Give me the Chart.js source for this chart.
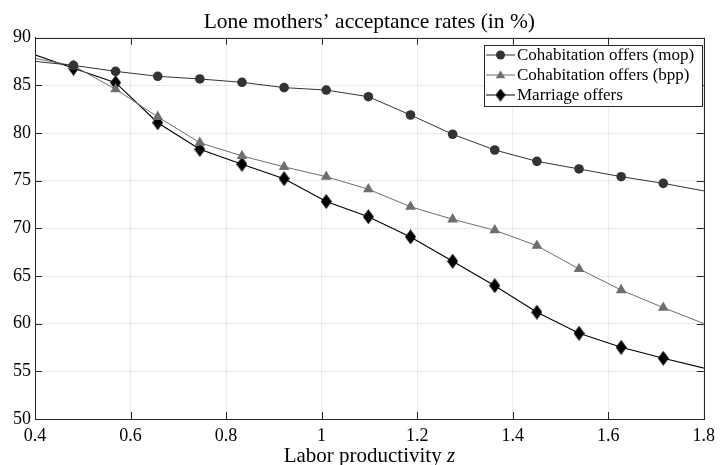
<!DOCTYPE html>
<html lang="en">
<head>
<meta charset="UTF-8" />
<script src="https://cdn.jsdelivr.net/npm/chart.js@4.4.1/dist/chart.umd.min.js"></script>
<style>
  html, body { margin: 0; padding: 0; background: #fff; }
  #wrap { width: 721px; height: 465px; }
</style>
</head>
<body>
<div id="wrap"><canvas id="c" width="721" height="465"></canvas></div>
<script>
// labor productivity grid (first and last points sit just outside the axes)
const zValues = [0.3923, 0.4805, 0.5687, 0.6569, 0.7451, 0.8333, 0.9215, 1.0097, 1.0979,
  1.1861, 1.2743, 1.3625, 1.4507, 1.5389, 1.6271, 1.7153, 1.8035]
const mopRates = [87.55, 87.1, 86.47, 85.95, 85.67, 85.32, 84.76, 84.51, 83.81,
  81.89, 79.87, 78.22, 77.03, 76.23, 75.42, 74.72, 73.9]
const bppRates = [87.9, 87.05, 84.6, 81.7, 78.98, 77.6, 76.45, 75.42, 74.1,
  72.27, 70.95, 69.8, 68.18, 65.74, 63.53, 61.68, 59.95]
const marriageRates = [88.33, 86.8, 85.28, 81.08, 78.29, 76.72, 75.21, 72.82, 71.22,
  69.1, 66.55, 63.98, 61.2, 58.99, 57.52, 56.37, 55.3]
const seriesNames = ['Cohabitation offers (mop)', 'Cohabitation offers (bpp)', 'Marriage offers']
const xTicks = [0.4, 0.6, 0.8, 1, 1.2, 1.4, 1.6, 1.8]
const yTicks = [50, 55, 60, 65, 70, 75, 80, 85, 90]
const chartTitle = 'Lone mothers’ acceptance rates (in %)'

const FONT = '"Liberation Serif", "Times New Roman", serif'
const AXIS = '#262626'

// tall diamond marker, like matlab's 'd'
function makeDiamond(w, h, color) {
	const cv = document.createElement('canvas')
	cv.width = w
	cv.height = h
	const g = cv.getContext('2d')
	g.fillStyle = color
	g.beginPath()
	g.moveTo(w / 2, 0)
	g.lineTo(w, h / 2)
	g.lineTo(w / 2, h)
	g.lineTo(0, h / 2)
	g.closePath()
	g.fill()
	return cv
}
const diamond = makeDiamond(11, 15, '#000')
const diamondSmall = makeDiamond(10, 13, '#000')

const pts = (ys) => zValues.map((x, i) => ({ x, y: ys[i] }))
const radii = (r) => zValues.map((_, i) => (i === 0 || i === zValues.length - 1 ? 0 : r))

// title, inward ticks on all four sides, box and legend inside the axes
const boxPlugin = {
	id: 'boxPlugin',
	afterDraw(chart) {
		const { ctx, chartArea: a, scales } = chart
		const cx = (a.left + a.right) / 2
		ctx.save()
		ctx.strokeStyle = AXIS
		ctx.lineWidth = 1
		ctx.strokeRect(Math.round(a.left) + 0.5, Math.round(a.top) + 0.5,
			Math.round(a.right - a.left), Math.round(a.bottom - a.top))
		const L = 7
		ctx.beginPath()
		xTicks.forEach((v) => {
			const px = Math.round(scales.x.getPixelForValue(v)) + 0.5
			ctx.moveTo(px, a.bottom); ctx.lineTo(px, a.bottom - L)
			ctx.moveTo(px, a.top); ctx.lineTo(px, a.top + L)
		})
		yTicks.forEach((v) => {
			const py = Math.round(scales.y.getPixelForValue(v)) + 0.5
			ctx.moveTo(a.left, py); ctx.lineTo(a.left + L, py)
			ctx.moveTo(a.right, py); ctx.lineTo(a.right - L, py)
		})
		ctx.stroke()

		// title centred over the axes
		ctx.fillStyle = '#000'
		ctx.textAlign = 'center'
		ctx.textBaseline = 'alphabetic'
		ctx.font = '21.5px ' + FONT
		ctx.fillText(chartTitle, cx, 27.5)

		// x label with italic z
		const t1 = 'Labor productivity '
		ctx.font = 'italic 21px ' + FONT
		const wz = ctx.measureText('z').width
		ctx.font = '21px ' + FONT
		const w1 = ctx.measureText(t1).width
		const x0 = cx - (w1 + wz) / 2
		ctx.textAlign = 'left'
		ctx.fillText(t1, x0, 462)
		ctx.font = 'italic 21px ' + FONT
		ctx.fillText('z', x0 + w1, 462)

		// legend
		const bx = 484, by = 45, bw = 218, bh = 61
		ctx.fillStyle = '#fff'
		ctx.fillRect(bx, by, bw, bh)
		ctx.strokeStyle = AXIS
		ctx.strokeRect(bx + 0.5, by + 0.5, bw, bh)
		ctx.font = '17px ' + FONT
		ctx.textBaseline = 'middle'
		chart.data.datasets.forEach((ds, i) => {
			const y = by + 10 + i * 20
			const mx = bx + 16.5
			ctx.strokeStyle = ds.borderColor
			ctx.lineWidth = 1
			ctx.beginPath()
			ctx.moveTo(bx + 2, y); ctx.lineTo(bx + 31, y)
			ctx.stroke()
			ctx.fillStyle = ds.pointBackgroundColor
			if (i === 2) {
				ctx.drawImage(diamondSmall, mx - diamondSmall.width / 2, y - diamondSmall.height / 2)
			} else {
				ctx.beginPath()
				if (i === 0) ctx.arc(mx, y, 4.5, 0, Math.PI * 2)
				else {
					const r = 5.5, e = r * Math.sqrt(3)
					ctx.moveTo(mx, y - r * 0.8)
					ctx.lineTo(mx + e / 2, y + r * 0.6)
					ctx.lineTo(mx - e / 2, y + r * 0.6)
					ctx.closePath()
				}
				ctx.fill()
			}
			ctx.fillStyle = '#000'
			ctx.fillText(ds.label, bx + 33, y + 1)
		})
		ctx.restore()
	},
}

new Chart(document.getElementById('c'), {
	type: 'line',
	data: {
		datasets: [
			{
				label: seriesNames[0], data: pts(mopRates),
				borderColor: '#333333', backgroundColor: '#333333',
				pointBackgroundColor: '#333333', pointBorderWidth: 0,
				pointStyle: 'circle', pointRadius: radii(4.8), borderWidth: 1,
			},
			{
				label: seriesNames[1], data: pts(bppRates),
				borderColor: '#6e6e6e', backgroundColor: '#6e6e6e',
				pointBackgroundColor: '#6e6e6e', pointBorderWidth: 0,
				pointStyle: 'triangle', pointRadius: radii(6.2), borderWidth: 1,
			},
			{
				label: seriesNames[2], data: pts(marriageRates),
				borderColor: '#000000', backgroundColor: '#000000',
				pointBackgroundColor: '#000000', pointBorderWidth: 0,
				pointStyle: diamond, pointRadius: radii(6), borderWidth: 1.1,
			},
		],
	},
	options: {
		responsive: false,
		animation: false,
		events: [],
		layout: { padding: { left: 0, right: 12, top: 37.7, bottom: 0 } },
		plugins: {
			legend: { display: false },
			tooltip: { enabled: false },
			title: { display: false },
		},
		scales: {
			x: {
				type: 'linear', min: 0.4, max: 1.8,
				afterFit: (s) => { s.height = 46 },
				afterBuildTicks: (s) => { s.ticks = xTicks.map((v) => ({ value: v })) },
				ticks: {
					color: '#000', padding: 6,
					font: { family: FONT, size: 18 },
					callback: (v) => String(+v.toFixed(1)),
				},
				grid: { color: 'rgba(0,0,0,0.08)', drawTicks: false },
				border: { display: true, color: AXIS },
			},
			y: {
				type: 'linear', min: 50, max: 90,
				afterFit: (s) => { s.width = 35 },
				afterBuildTicks: (s) => { s.ticks = yTicks.map((v) => ({ value: v })) },
				ticks: {
					color: '#000', padding: 4,
					font: { family: FONT, size: 18 },
				},
				grid: { color: 'rgba(0,0,0,0.08)', drawTicks: false },
				border: { display: true, color: AXIS },
			},
		},
	},
	plugins: [boxPlugin],
})
</script>
</body>
</html>
